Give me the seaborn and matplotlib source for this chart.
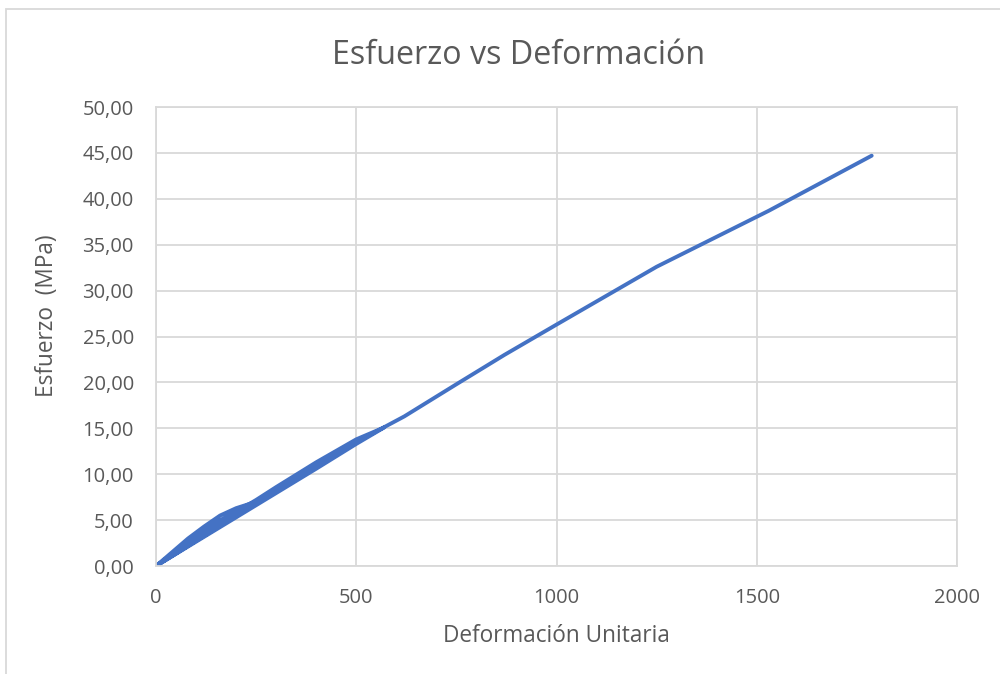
import matplotlib
matplotlib.use("Agg")
import matplotlib.pyplot as plt
from matplotlib.patches import Rectangle
import seaborn as sns
import pandas as pd

# Strain (micro-strain) and stress (MPa) for three loading/unloading cycles
cycle1_strain = [0, 20, 40, 80, 120, 160, 200, 250, 200, 150, 100, 50, 0]
cycle1_stress = [0, 0.75, 1.5, 3.0, 4.3, 5.5, 6.3, 7.0, 5.5, 4.1, 2.75, 1.35, 0]

cycle2_strain = [0, 20, 40, 80, 120, 160, 200, 250, 300, 400, 500, 570, 500, 400, 300, 200, 100, 0]
cycle2_stress = [0, 0.65, 1.3, 2.6, 3.9, 5.0, 5.9, 7.2, 8.6, 11.3, 13.8, 15.1, 13.3, 10.6, 7.95, 5.3, 2.65, 0]

cycle3_strain = [0, 50, 100, 200, 300, 400, 500, 620, 750, 870, 1000, 1250, 1530, 1787]
cycle3_stress = [0, 1.5, 2.9, 5.6, 8.2, 10.9, 13.5, 16.3, 19.8, 23.0, 26.3, 32.6, 38.7, 44.7]

x_ticks = [0, 500, 1000, 1500, 2000]
y_ticks = [0, 5, 10, 15, 20, 25, 30, 35, 40, 45, 50]

strain = cycle1_strain + cycle2_strain + cycle3_strain
stress = cycle1_stress + cycle2_stress + cycle3_stress
df = pd.DataFrame({"strain": strain, "stress": stress})

sns.set_theme(style="white")
plt.rcParams["font.family"] = ["Open Sans", "DejaVu Sans"]

text_color = "#595959"
grid_color = "#d9d9d9"

fig = plt.figure(figsize=(10, 6.74), dpi=100)
ax = fig.add_axes([0.156, 0.1602, 0.801, 0.681])

sns.lineplot(data=df, x="strain", y="stress", sort=False, estimator=None,
             color="#4472c4", linewidth=2.8, ax=ax)

ax.set_xlim(0, 2000)
ax.set_ylim(0, 50)
ax.set_xticks(x_ticks)
ax.set_yticks(y_ticks)
ax.set_xticklabels([str(v) for v in x_ticks])
ax.set_yticklabels([f"{v:.2f}".replace(".", ",") for v in y_ticks])
ax.grid(True, color=grid_color, linewidth=1.3)
ax.set_axisbelow(True)
for side in ["top", "right", "left", "bottom"]:
    ax.spines[side].set_color(grid_color)
    ax.spines[side].set_linewidth(1.3)
ax.tick_params(axis="x", length=0, labelsize=14.5, labelcolor=text_color, pad=16)
ax.tick_params(axis="y", length=0, labelsize=14.5, labelcolor=text_color, pad=16)

ax.set_xlabel("Deformación Unitaria", fontsize=16.3, color=text_color, va="center")
ax.set_ylabel("Esfuerzo  (MPa)", fontsize=16.3, color=text_color, va="center")
ax.xaxis.set_label_coords(0.5, -0.1525)
ax.yaxis.set_label_coords(-0.136, 0.5447)

fig.text(0.519, 1 - 55 / 674, "Esfuerzo vs Deformación", fontsize=23.2,
         color=text_color, ha="center", va="center")

# Chart-area border
fig.patches.append(Rectangle((0.0055, -0.1), 1.2, 1.0865, transform=fig.transFigure,
                             fill=False, edgecolor=grid_color, linewidth=1.3))

fig.savefig("out.png", dpi=100, facecolor="white")
